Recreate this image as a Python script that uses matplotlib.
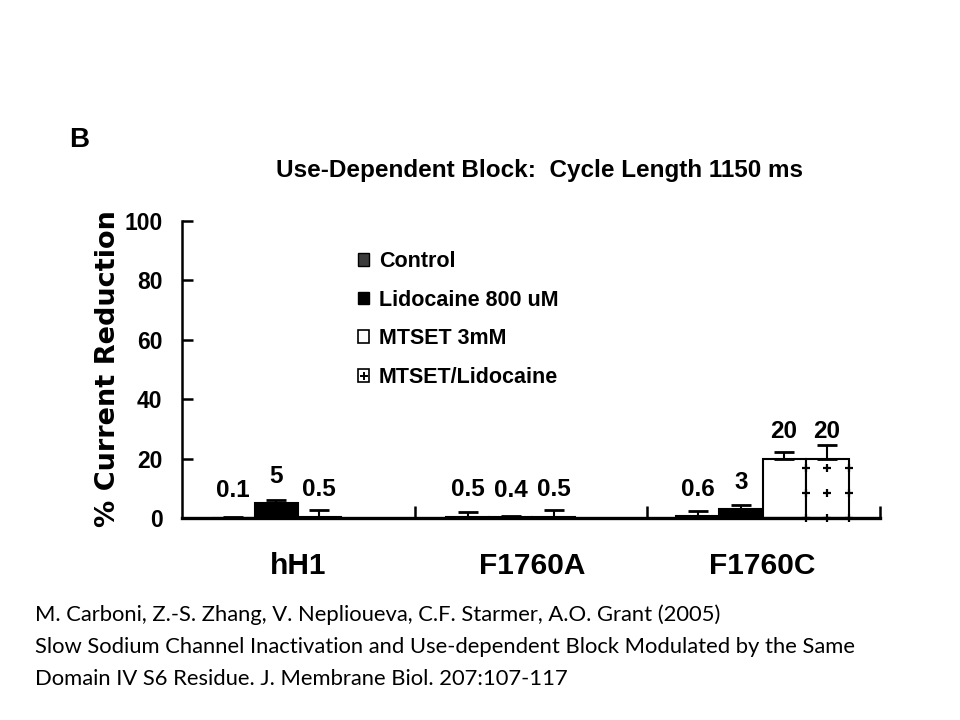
import numpy as np
import matplotlib
matplotlib.use("Agg")
import matplotlib.pyplot as plt
from matplotlib.patches import Patch
from matplotlib.lines import Line2D

# data (% current reduction)
groups = ["hH1", "F1760A", "F1760C"]
conditions = ["Control", "Lidocaine 800 uM", "MTSET 3mM", "MTSET/Lidocaine"]
control = [0.1, 0.5, 0.6]
lidocaine = [5, 0.4, 3]
mtset = [0.5, 0.5, 20]
mtset_lido = [np.nan, np.nan, 20]
control_err = [0.3, 1.5, 1.7]
lidocaine_err = [1.0, 0.3, 1.4]
mtset_err = [2.2, 2.2, 2.2]
mtset_lido_err = [np.nan, np.nan, 4.5]
yticks = [0, 20, 40, 60, 80, 100]

caption = ["M. Carboni, Z.-S. Zhang, V. Neplioueva, C.F. Starmer, A.O. Grant (2005)",
           "Slow Sodium Channel Inactivation and Use-dependent Block Modulated by the Same",
           "Domain IV S6 Residue. J. Membrane Biol. 207:107-117"]

bold = dict(family="Liberation Sans", weight="bold")

fig = plt.figure(figsize=(9.6, 7.2), dpi=100)
ax = fig.add_axes([182 / 960, 1 - 518 / 720, 698 / 960, 297 / 720])

series = [control, lidocaine, mtset, mtset_lido]
errs = [control_err, lidocaine_err, mtset_err, mtset_lido_err]
faces = ["#3c3c3c", "black", "white", "white"]
group_x = np.array([0, 5.45, 10.8])
w = 1.0

for k in range(4):
    x = group_x + k * w
    vals = np.array(series[k], dtype=float)
    err = np.array(errs[k], dtype=float)
    ok = ~np.isnan(vals)
    ax.bar(x[ok], vals[ok], width=w, color=faces[k], edgecolor="black",
           linewidth=1.5, zorder=2)
    ax.errorbar(x[ok], vals[ok], yerr=[np.zeros(ok.sum()), err[ok]], fmt="none",
                ecolor="black", elinewidth=1.5, capsize=7, capthick=2, zorder=3)
    for xi, v in zip(x[ok], vals[ok]):
        ax.text(xi, v + 9, f"{v:g}", ha="center", va="center", fontsize=17.5, **bold)
        if k == 3:
            # crosses inside the MTSET/Lidocaine bar
            px = np.repeat([xi - w / 2, xi, xi + w / 2], 3)
            py = np.tile(np.arange(0, v - 1, 8.5), 3)
            ax.plot(px, py, ls="none", marker="+", ms=6, mew=1.6, color="black",
                    zorder=4, clip_on=False)

ax.set_xlim(-1.19, 15.03)
ax.set_ylim(0, 100)
ax.set_yticks(yticks)
ax.set_yticklabels([str(t) for t in yticks], fontsize=16.5, **bold)
ax.set_xticks([(group_x[0] + 3 + group_x[1]) / 2, (group_x[1] + 3 + group_x[2]) / 2, 15.03])
ax.set_xticklabels([])
ax.tick_params(axis="y", direction="in", length=8, width=1.8, pad=14)
ax.tick_params(axis="x", direction="in", length=9, width=1.8)
for s in ["top", "right"]:
    ax.spines[s].set_visible(False)
ax.spines["left"].set_linewidth(1.8)
ax.spines["bottom"].set_linewidth(2.4)

for g, gx in zip(groups, group_x):
    ax.text(gx + 1.5, -16, g, ha="center", va="center", fontsize=21.5,
            transform=ax.transData, **bold)

handles = [Patch(facecolor=faces[0], edgecolor="black"),
           Patch(facecolor=faces[1], edgecolor="black"),
           Patch(facecolor=faces[2], edgecolor="black", linewidth=1.2),
           (Patch(facecolor=faces[3], edgecolor="black", linewidth=1.2),
            Line2D([], [], ls="none", marker="+", ms=6, mew=1.4, color="black"))]
leg = ax.legend(handles, conditions, loc="upper left",
                bbox_to_anchor=(358 / 960, 1 - 251 / 720), bbox_transform=fig.transFigure,
                frameon=False, borderpad=0, borderaxespad=0, handlelength=0.52,
                handleheight=0.52, handletextpad=0.45, labelspacing=0.82,
                prop=dict(family="Liberation Sans", weight="bold", size=15.5))

fig.text(79 / 960, 1 - 140 / 720, "B", ha="center", va="center", fontsize=20, **bold)
fig.text(539 / 960, 1 - 170 / 720, "Use-Dependent Block:  Cycle Length 1150 ms",
         ha="center", va="center", fontsize=17.5, **bold)
fig.text(108 / 960, 1 - 369 / 720, "% Current Reduction", rotation=90, ha="center",
         va="center", fontsize=19.5, family="DejaVu Sans", weight="bold")

for i, line in enumerate(caption):
    fig.text(35 / 960, 1 - (615 + 32 * i) / 720, line, ha="left", va="center",
             fontsize=15.8, family="Lato")

fig.savefig("out.png", dpi=100)
